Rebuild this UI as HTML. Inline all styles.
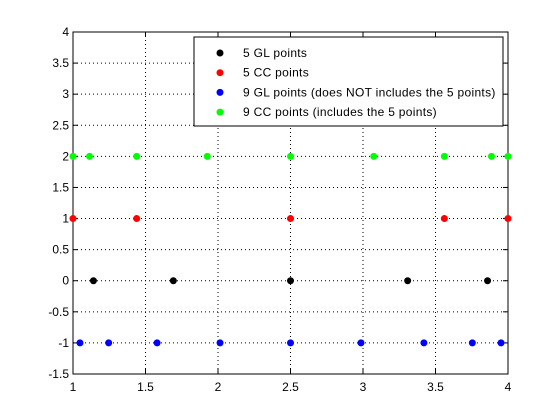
<!DOCTYPE html>
<html><head><meta charset="utf-8"><style>
html,body{margin:0;padding:0;background:#fff;}
svg{display:block;font-family:"Liberation Sans",sans-serif;}
</style></head><body>
<svg id="chart" width="560" height="420" viewBox="0 0 560 420"></svg>
<script>
const xTicks=[1,1.5,2,2.5,3,3.5,4];
const yTicks=[-1.5,-1,-0.5,0,0.5,1,1.5,2,2.5,3,3.5,4];
const seriesNames=["5 GL points","5 CC points","9 GL points (does NOT includes the 5 points)","9 CC points (includes the 5 points)"];
const seriesColors=["#000000","#ff0000","#0000ff","#00ff00"];
const gl5X=[1.141,1.692,2.5,3.308,3.859];
const gl5Y=[0,0,0,0,0];
const cc5X=[1,1.439,2.5,3.561,4];
const cc5Y=[1,1,1,1,1];
const gl9X=[1.048,1.246,1.580,2.014,2.5,2.986,3.420,3.754,3.952];
const gl9Y=[-1,-1,-1,-1,-1,-1,-1,-1,-1];
const cc9X=[1,1.114,1.439,1.926,2.5,3.074,3.561,3.886,4];
const cc9Y=[2,2,2,2,2,2,2,2,2];

const L=73,R=508,T=32,B=374;
const sx=v=>L+(v-1)/3*(R-L);
const sy=v=>B-(v+1.5)/5.5*(B-T);
const svg=document.getElementById('chart');
const NS='http://www.w3.org/2000/svg';
function mk(tag,attrs,parent){const e=document.createElementNS(NS,tag);for(const k in attrs)e.setAttribute(k,attrs[k]);(parent||svg).appendChild(e);return e;}

const grid=mk('g',{});


xTicks.forEach(t=>{
  const x=sx(t);
  const gl=mk('line',{x1:x,x2:x,y1:T,y2:B,stroke:'#000','stroke-width':1,'stroke-dasharray':'1,3'},grid);
  
  
  mk('line',{x1:x,x2:x,y1:B,y2:B-5,stroke:'#000'},grid);
  mk('line',{x1:x,x2:x,y1:T,y2:T+5,stroke:'#000'},grid);
  const lb=mk('text',{x:x,y:B+17,'font-size':12,'text-anchor':'middle'});
  lb.textContent=String(t);
  
  
});
yTicks.forEach(t=>{
  const y=sy(t);
  const gl=mk('line',{x1:L,x2:R,y1:y,y2:y,stroke:'#000','stroke-width':1,'stroke-dasharray':'1,3'},grid);
  
  
  mk('line',{x1:L,x2:L+5,y1:y,y2:y,stroke:'#000'},grid);
  mk('line',{x1:R,x2:R-5,y1:y,y2:y,stroke:'#000'},grid);
  const lb=mk('text',{x:L-4,y:y+4,'font-size':12,'text-anchor':'end'});
  lb.textContent=String(t);
  
  
});
const box=mk('rect',{x:L,y:T,width:R-L,height:B-T,fill:'none',stroke:'#000'});



const allX=[gl5X,cc5X,gl9X,cc9X],allY=[gl5Y,cc5Y,gl9Y,cc9Y];
const names=['series-5-gl','series-5-cc','series-9-gl','series-9-cc'];
allX.forEach((xs,i)=>{
  const g=mk('g',{});
  
  
  xs.forEach((v,j)=>{
    const c=mk('circle',{cx:sx(v),cy:sy(allY[i][j]),r:3.5,fill:seriesColors[i]},g);
    
    
  });
});

const lg=mk('g',{});


mk('rect',{x:194,y:37,width:309,height:89,fill:'#fff',stroke:'#000'},lg);
seriesNames.forEach((n,i)=>{
  const y=53+i*19.7;
  const e=mk('g',{},lg);
  
  
  mk('circle',{cx:220,cy:y,r:3.5,fill:seriesColors[i]},e);
  const t=mk('text',{x:243,y:y+4,'font-size':12,'letter-spacing':'0.3'},e);
  t.textContent=n;
});
</script>
</body></html>
